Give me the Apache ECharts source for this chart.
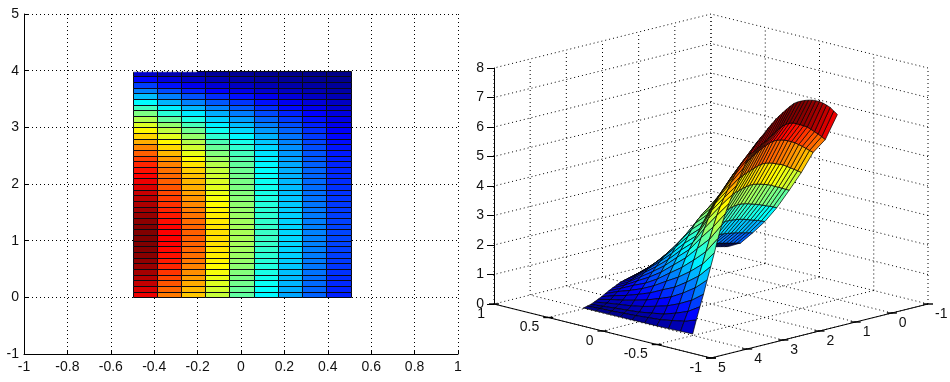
<!DOCTYPE html>
<html><head><meta charset="utf-8">
<style>html,body{margin:0;padding:0;background:#fff}#c{width:950px;height:382px}</style>
<script src="https://cdn.jsdelivr.net/npm/echarts@6/dist/echarts.min.js"></script>
</head><body><div id="c"></div>
<script>
// Surface grid: x edges, y edges (0 to 4 by 0.1)
const xEdges=[-0.498,-0.387,-0.275,-0.166,-0.055,0.06,0.17,0.281,0.393,0.509];
const yEdges=[0,.1,.2,.3,.4,.5,.6,.7,.8,.9,1,1.1,1.2,1.3,1.4,1.5,1.6,1.7,1.8,1.9,2,2.1,2.2,2.3,2.4,2.5,2.6,2.7,2.8,2.9,3,3.1,3.2,3.3,3.4,3.5,3.6,3.7,3.8,3.9,4];
const zCol1=[6.27,6.42,6.57,6.68,6.78,6.86,6.92,6.97,7.00,7.02,7.03,7.03,7.01,6.95,6.88,6.80,6.72,6.63,6.52,6.41,6.27,6.16,6.04,5.90,5.72,5.50,5.24,4.96,4.69,4.44,4.16,3.85,3.50,3.08,2.62,2.19,1.76,1.31,0.91,0.50,0.05];
const zCol2=[5.32,5.45,5.57,5.68,5.79,5.90,5.97,6.04,6.10,6.16,6.17,6.17,6.13,6.06,5.98,5.90,5.82,5.74,5.66,5.58,5.50,5.44,5.37,5.26,5.09,4.88,4.66,4.43,4.20,3.95,3.66,3.30,2.92,2.53,2.13,1.76,1.39,1.00,0.65,0.35,0.04];
const zCol3=[4.78,4.88,4.98,5.08,5.17,5.26,5.33,5.39,5.44,5.48,5.50,5.50,5.47,5.42,5.36,5.29,5.22,5.13,5.04,4.95,4.90,4.84,4.73,4.58,4.41,4.24,4.07,3.88,3.67,3.42,3.13,2.83,2.50,2.14,1.78,1.45,1.11,0.78,0.49,0.27,0.03];
const zCol4=[4.00,4.09,4.17,4.25,4.33,4.41,4.46,4.51,4.56,4.60,4.62,4.62,4.59,4.55,4.50,4.45,4.40,4.33,4.26,4.20,4.14,4.08,4.00,3.89,3.73,3.55,3.36,3.16,2.95,2.74,2.54,2.33,2.08,1.79,1.49,1.18,0.88,0.61,0.36,0.20,0.02];
const zCol5=[3.30,3.36,3.43,3.49,3.55,3.62,3.67,3.71,3.75,3.78,3.80,3.80,3.78,3.75,3.71,3.67,3.63,3.58,3.54,3.50,3.47,3.44,3.39,3.32,3.23,3.11,2.97,2.79,2.59,2.38,2.18,1.97,1.74,1.50,1.25,0.99,0.72,0.49,0.29,0.17,0.02];
const zCol6=[2.60,2.66,2.71,2.76,2.81,2.86,2.90,2.94,2.98,3.01,3.03,3.03,3.01,2.98,2.95,2.92,2.88,2.84,2.80,2.76,2.72,2.68,2.64,2.59,2.53,2.46,2.37,2.26,2.11,1.94,1.76,1.58,1.39,1.19,0.99,0.78,0.57,0.38,0.22,0.13,0.015];
const zCol7=[2.03,2.08,2.13,2.17,2.21,2.25,2.29,2.32,2.34,2.36,2.37,2.37,2.36,2.34,2.32,2.30,2.27,2.24,2.21,2.18,2.15,2.12,2.08,2.04,1.99,1.93,1.86,1.78,1.68,1.56,1.42,1.28,1.12,0.95,0.79,0.63,0.46,0.30,0.18,0.11,0.012];
const zCol8=[1.55,1.58,1.61,1.64,1.67,1.70,1.72,1.74,1.76,1.77,1.78,1.78,1.77,1.75,1.73,1.71,1.69,1.67,1.65,1.63,1.61,1.59,1.57,1.54,1.50,1.46,1.41,1.35,1.28,1.20,1.11,1.00,0.89,0.77,0.63,0.49,0.36,0.25,0.15,0.08,0.01];
const zCol9=[1.10,1.13,1.16,1.19,1.22,1.25,1.28,1.31,1.33,1.35,1.36,1.36,1.35,1.33,1.31,1.29,1.27,1.25,1.23,1.21,1.19,1.17,1.15,1.13,1.10,1.06,1.02,0.97,0.92,0.86,0.78,0.72,0.65,0.57,0.49,0.38,0.28,0.19,0.11,0.07,0.01];
const zCol10=[0.87,0.90,0.93,0.96,0.99,1.02,1.05,1.08,1.10,1.12,1.13,1.13,1.12,1.11,1.10,1.09,1.06,1.03,0.99,0.95,0.90,0.87,0.84,0.80,0.76,0.72,0.69,0.66,0.63,0.60,0.56,0.50,0.44,0.38,0.31,0.24,0.18,0.12,0.07,0.04,0.01];
// Tick values and labels of the 3D box
const xTicks3d=[-1,-0.5,0,0.5,1];
const xTickLabels3d=['-1','-0.5','0','0.5','1'];
const yTicks3d=[-1,0,1,2,3,4,5];
const zTicks3d=[0,1,2,3,4,5,6,7,8];
// MATLAB jet colour stops
const jetStops=['#000080','#0000ff','#0080ff','#00ffff','#80ff80','#ffff00','#ff8000','#ff0000','#800000'];

const zCols=[zCol1,zCol2,zCol3,zCol4,zCol5,zCol6,zCol7,zCol8,zCol9,zCol10];
const zMin=0.01, zMax=7.03;
const FONT='14px "Liberation Sans", Arial, sans-serif';
function jet(z){const t=Math.min(1,Math.max(0,(z-zMin)/(zMax-zMin)));return echarts.color.lerp(t,jetStops);}

// 3D view: box projected on a hidden horizontal scale u (0..1) and the visible z scale.
const K=1.83; // box floor rise expressed in z units
const proj=(x,y,z)=>[((1-x)/2+(5-y)/6)/2, z-K*(1-x)/2+K*(5-y)/6];
const depth=(x,y,z)=>0.686*((y+1)/6-(x+1)/2)+0.249*z/8;

// Face tables
const faces=[];
for(let i=0;i<xEdges.length-1;i++)for(let j=0;j<yEdges.length-1;j++)faces.push([i,j]);
const faceDepth=([i,j])=>{let d=0;for(const [a,b] of [[i,j],[i+1,j],[i,j+1],[i+1,j+1]])d+=depth(xEdges[a],yEdges[b],zCols[a][b]);return d/4;};
const faces3d=faces.slice().sort((p,q)=>faceDepth(p)-faceDepth(q));

// Dotted lines of the box walls and floor: [x1,y1,z1,x2,y2,z2]
const wallLines=[];
for(const y of yTicks3d){wallLines.push([1,y,0,1,y,8]);wallLines.push([-1,y,0,1,y,0]);}
for(const x of xTicks3d){wallLines.push([x,-1,0,x,-1,8]);wallLines.push([x,-1,0,x,5,0]);}
for(const z of zTicks3d){if(z===0)continue;wallLines.push([1,-1,z,1,5,z]);wallLines.push([-1,-1,z,1,-1,z]);}
const axisLines3d=[[1,5,0,-1,5,0],[-1,5,0,-1,-1,0]];

const pick={x:0,y:1};
const coord3=(api,x,y,z)=>api.coord(proj(x,y,z));

const option={
 animation:false,backgroundColor:'#fff',
 grid:[{left:24,top:14,width:434,height:340},{left:494,top:68,width:434,height:236}],
 xAxis:[
  {gridIndex:0,type:'value',min:-1,max:1,interval:0.2,
   axisLine:{show:true,onZero:false,lineStyle:{color:'#000',width:1}},
   axisTick:{show:true,inside:true,length:4,lineStyle:{color:'#000'}},
   axisLabel:{color:'#111',font:FONT,fontFamily:'Liberation Sans',fontSize:14,margin:6,formatter:v=>String(+v.toFixed(1)),showMinLabel:true,showMaxLabel:true,hideOverlap:false},
   splitLine:{show:true,lineStyle:{color:'#000',type:[1,3],width:1}}},
  {gridIndex:1,type:'value',min:0,max:1,show:false,splitLine:{show:false}}
 ],
 yAxis:[
  {gridIndex:0,type:'value',min:-1,max:5,interval:1,
   axisLine:{show:true,onZero:false,lineStyle:{color:'#000',width:1}},
   axisTick:{show:true,inside:true,length:4,lineStyle:{color:'#000'}},
   axisLabel:{color:'#111',fontFamily:'Liberation Sans',fontSize:14,margin:5,showMinLabel:true,showMaxLabel:true,hideOverlap:false},
   splitLine:{show:true,lineStyle:{color:'#000',type:[1,3],width:1}}},
  {gridIndex:1,type:'value',min:0,max:8,interval:1,
   axisLine:{show:true,onZero:false,lineStyle:{color:'#000',width:1}},
   axisTick:{show:true,inside:false,length:7,lineStyle:{color:'#000'}},
   axisLabel:{color:'#111',fontFamily:'Liberation Sans',fontSize:14,margin:10,showMinLabel:true,showMaxLabel:true,hideOverlap:false},
   splitLine:{show:false}}
 ],
 series:[
  {type:'custom',name:'map',xAxisIndex:0,yAxisIndex:0,z:3,silent:true,encode:pick,data:faces,
   renderItem(p,api){
    const i=api.value(0),j=api.value(1);
    const a=api.coord([xEdges[i],yEdges[j]]),b=api.coord([xEdges[i+1],yEdges[j+1]]);
    const x0=Math.round(a[0])+.5,x1=Math.round(b[0])+.5,y0=Math.round(a[1])+.5,y1=Math.round(b[1])+.5;
    return {type:'rect',shape:{x:x0,y:y1,width:x1-x0,height:y0-y1},
      style:{fill:jet(zCols[i][j]),stroke:'#0a0a14',lineWidth:1}};
   }},
  {type:'custom',name:'top dashes',xAxisIndex:0,yAxisIndex:0,z:4,silent:true,encode:pick,data:[[-0.498,4,-0.2,4]],
   renderItem(p,api){
    const a=api.coord([api.value(0),api.value(1)]),b=api.coord([api.value(2),api.value(3)]);
    return {type:'line',shape:{x1:a[0],y1:a[1]+1,x2:b[0],y2:b[1]+1},style:{stroke:'#fff',lineWidth:1,lineDash:[4,1]}};
   }},
  {type:'custom',name:'walls',xAxisIndex:1,yAxisIndex:1,z:2,silent:true,data:wallLines,encode:{x:0,y:1},
   renderItem(p,api){
    const a=coord3(api,api.value(0),api.value(1),api.value(2)),b=coord3(api,api.value(3),api.value(4),api.value(5));
    return {type:'line',shape:{x1:a[0],y1:a[1],x2:b[0],y2:b[1]},style:{stroke:'#000',lineWidth:1,lineDash:[1,3]}};
   }},
  {type:'custom',name:'surface',xAxisIndex:1,yAxisIndex:1,z:3,silent:true,encode:pick,data:faces3d,
   renderItem(p,api){
    const i=api.value(0),j=api.value(1);
    const pts=[[i,j],[i+1,j],[i+1,j+1],[i,j+1]].map(([a,b])=>coord3(api,xEdges[a],yEdges[b],zCols[a][b]));
    return {type:'polygon',shape:{points:pts},style:{fill:jet(zCols[i][j]),stroke:'#000',lineWidth:0.7}};
   }},
  {type:'custom',name:'axes',xAxisIndex:1,yAxisIndex:1,z:4,silent:true,data:axisLines3d,encode:{x:0,y:1},
   renderItem(p,api){
    const a=coord3(api,api.value(0),api.value(1),api.value(2)),b=coord3(api,api.value(3),api.value(4),api.value(5));
    return {type:'line',shape:{x1:a[0],y1:a[1],x2:b[0],y2:b[1]},style:{stroke:'#000',lineWidth:1}};
   }},
  {type:'custom',name:'x ticks',xAxisIndex:1,yAxisIndex:1,z:4,silent:true,data:xTicks3d.map((v,k)=>[v,k]),encode:{x:0,y:1},
   renderItem(p,api){
    const v=api.value(0),q=coord3(api,v,5,0);
    return {type:'group',children:[
     {type:'line',shape:{x1:q[0]-5,y1:q[1],x2:q[0]+5,y2:q[1]},style:{stroke:'#000',lineWidth:1.4}},
     {type:'text',style:{text:xTickLabels3d[api.value(1)],x:q[0]-9,y:q[1]+10,align:'right',verticalAlign:'middle',font:FONT,fill:'#111'}}
    ]};
   }},
  {type:'custom',name:'y ticks',xAxisIndex:1,yAxisIndex:1,z:4,silent:true,data:yTicks3d.map(v=>[v,0]),encode:{x:0,y:1},
   renderItem(p,api){
    const v=api.value(0),q=coord3(api,-1,v,0);
    return {type:'group',children:[
     {type:'line',shape:{x1:q[0]-5,y1:q[1],x2:q[0]+5,y2:q[1]},style:{stroke:'#000',lineWidth:1.4}},
     {type:'text',style:{text:String(v),x:q[0]+7,y:q[1]+10,align:'left',verticalAlign:'middle',font:FONT,fill:'#111'}}
    ]};
   }}
 ]
};
const chart=echarts.init(document.getElementById('c'),null,{renderer:'canvas'});
chart.setOption(option);
</script></body></html>
